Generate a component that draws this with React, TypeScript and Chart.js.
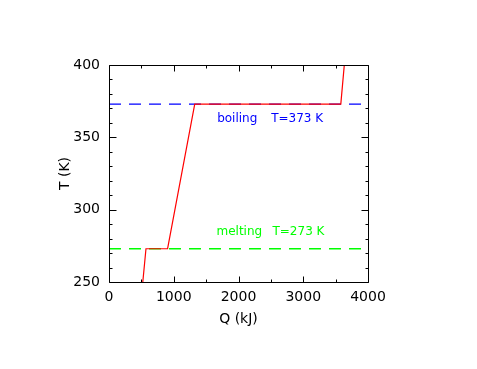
import React, { useEffect, useRef } from 'react';
import { Chart, registerables } from 'chart.js';

Chart.register(...registerables);

// Heating curve of water (Q in kJ, T in K)
const heatQ = [522, 571, 905, 1324, 3580, 3634];
const temperature = [250, 273, 273, 373, 373, 400];

const boilingT = 373;
const meltingT = 273;
const refQ = [0, 4000];

const xMajorTicks = [0, 1000, 2000, 3000, 4000];
const xMinorTicks = [500, 1500, 2500, 3500];
const yMajorTicks = [250, 300, 350, 400];
const yMinorTicks = [260, 270, 280, 290, 310, 320, 330, 340, 360, 370, 380, 390];

const boilingLabel = 'boiling';
const boilingValue = 'T=373 K';
const meltingLabel = 'melting';
const meltingValue = 'T=273 K';

const FONT = 'DejaVu Sans';

export default function App() {
  const ref = useRef<HTMLCanvasElement | null>(null);

  useEffect(() => {
    document.body.style.margin = '0';
    const canvas = ref.current;
    if (!canvas) return;

    const framePlugin = {
      id: 'frameTicks',
      afterDraw(chart: any) {
        const { ctx, chartArea } = chart;
        const xs = chart.scales.x;
        const ys = chart.scales.y;
        const L = Math.round(chartArea.left) + 0.5;
        const R = Math.round(chartArea.right) + 0.5;
        const T = Math.round(chartArea.top) + 0.5;
        const B = Math.round(chartArea.bottom) + 0.5;
        ctx.save();
        ctx.strokeStyle = '#000';
        ctx.lineWidth = 1;
        ctx.beginPath();
        ctx.rect(L, T, R - L, B - T);
        const xt = (v: number, len: number) => {
          const px = Math.round(xs.getPixelForValue(v)) + 0.5;
          ctx.moveTo(px, B);
          ctx.lineTo(px, B - len);
          ctx.moveTo(px, T);
          ctx.lineTo(px, T + len);
        };
        const yt = (v: number, len: number) => {
          const py = Math.round(ys.getPixelForValue(v)) + 0.5;
          ctx.moveTo(L, py);
          ctx.lineTo(L + len, py);
          ctx.moveTo(R, py);
          ctx.lineTo(R - len, py);
        };
        xMajorTicks.forEach((v) => xt(v, 6));
        xMinorTicks.forEach((v) => xt(v, 3));
        yMajorTicks.forEach((v) => yt(v, 7));
        yMinorTicks.forEach((v) => yt(v, 3));
        ctx.stroke();

        ctx.font = `12px "${FONT}"`;
        ctx.textBaseline = 'middle';
        ctx.textAlign = 'left';
        ctx.fillStyle = '#0000ff';
        const bx = xs.getPixelForValue(1670);
        const by = ys.getPixelForValue(363.0);
        ctx.fillText(boilingLabel, bx, by);
        ctx.fillText(boilingValue, bx + 54, by);
        ctx.fillStyle = '#00ff00';
        const mx = xs.getPixelForValue(1660);
        const my = ys.getPixelForValue(284.8);
        ctx.fillText(meltingLabel, mx, my);
        ctx.fillText(meltingValue, mx + 56, my);
        ctx.restore();
      },
    };

    const chart = new Chart(canvas, {
      type: 'line',
      data: {
        datasets: [
          {
            data: heatQ.map((q, i) => ({ x: q, y: temperature[i] })),
            borderColor: '#ff0000',
            borderWidth: 1.2,
            pointRadius: 0,
            tension: 0,
            fill: false,
          },
          {
            data: refQ.map((q) => ({ x: q, y: boilingT })),
            borderColor: '#0000ff',
            borderWidth: 1.3,
            borderDash: [12, 8],
            pointRadius: 0,
            fill: false,
          },
          {
            data: refQ.map((q) => ({ x: q, y: meltingT })),
            borderColor: '#00ff00',
            borderWidth: 1.3,
            borderDash: [12, 8],
            pointRadius: 0,
            fill: false,
          },
        ],
      },
      options: {
        responsive: false,
        animation: false,
        events: [],
        layout: { padding: { left: 49, right: 109, top: 65, bottom: 27 } },
        plugins: { legend: { display: false }, tooltip: { enabled: false } },
        scales: {
          x: {
            type: 'linear',
            min: 0,
            max: 4000,
            afterFit: (s: any) => {
              s.height = 60;
            },
            afterBuildTicks: (s: any) => {
              s.ticks = xMajorTicks.map((v) => ({ value: v }));
            },
            grid: { display: false, drawTicks: false },
            border: { display: false },
            ticks: {
              color: '#000',
              padding: 7,
              maxRotation: 0,
              callback: (v: any) => String(v),
              font: { family: FONT, size: 14 },
            },
            title: {
              display: true,
              text: 'Q (kJ)',
              color: '#000',
              padding: { top: 0, bottom: 14 },
              font: { family: FONT, size: 14 },
            },
          },
          y: {
            type: 'linear',
            min: 250,
            max: 400,
            afterFit: (s: any) => {
              s.width = 60;
            },
            afterBuildTicks: (s: any) => {
              s.ticks = yMajorTicks.map((v) => ({ value: v }));
            },
            grid: { display: false, drawTicks: false },
            border: { display: false },
            ticks: {
              color: '#000',
              padding: 9,
              callback: (v: any) => String(v),
              font: { family: FONT, size: 14 },
            },
            title: {
              display: true,
              text: 'T (K)',
              color: '#000',
              padding: { top: 8, bottom: 0 },
              font: { family: FONT, size: 14 },
            },
          },
        },
      },
      plugins: [framePlugin],
    });

    return () => chart.destroy();
  }, []);

  return <canvas ref={ref} width={477} height={369} style={{ display: 'block' }} />;
}
